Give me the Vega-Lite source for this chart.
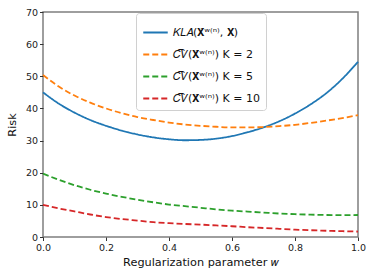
{
  "$schema": "https://vega.github.io/schema/vega-lite/v6.json",
  "width": 315,
  "height": 225,
  "autosize": {"type": "none"},
  "padding": {"left": 43, "top": 12, "right": 15, "bottom": 42},
  "background": "white",
  "config": {
    "font": "DejaVu Sans",
    "view": {"stroke": "#7f7f7f", "strokeWidth": 1.5},
    "axis": {"domain": false, "grid": false, "labelFlush": false, "tickColor": "#333", "tickSize": 3.5, "labelColor": "#222", "labelFontSize": 9.5, "titleFontSize": 11.3, "titleFontWeight": "normal", "titleColor": "#111", "labelFont": "DejaVu Sans", "titleFont": "DejaVu Sans"}
  },
  "data": {"values": [
    {"w":0,"s":"KLA","v":45.0},{"w":0.05,"s":"KLA","v":41.5},{"w":0.1,"s":"KLA","v":38.7},{"w":0.15,"s":"KLA","v":36.4},{"w":0.2,"s":"KLA","v":34.6},{"w":0.25,"s":"KLA","v":33.1},{"w":0.3,"s":"KLA","v":31.9},{"w":0.35,"s":"KLA","v":31.0},{"w":0.4,"s":"KLA","v":30.4},{"w":0.45,"s":"KLA","v":30.1},{"w":0.5,"s":"KLA","v":30.2},{"w":0.55,"s":"KLA","v":30.6},{"w":0.6,"s":"KLA","v":31.4},{"w":0.65,"s":"KLA","v":32.6},{"w":0.7,"s":"KLA","v":34.1},{"w":0.75,"s":"KLA","v":36.0},{"w":0.8,"s":"KLA","v":38.4},{"w":0.85,"s":"KLA","v":41.3},{"w":0.9,"s":"KLA","v":44.8},{"w":0.95,"s":"KLA","v":49.2},{"w":1.0,"s":"KLA","v":54.5},
    {"w":0,"s":"K2","v":50.4},{"w":0.05,"s":"K2","v":46.8},{"w":0.1,"s":"K2","v":44.0},{"w":0.15,"s":"K2","v":41.8},{"w":0.2,"s":"K2","v":40.0},{"w":0.25,"s":"K2","v":38.5},{"w":0.3,"s":"K2","v":37.3},{"w":0.35,"s":"K2","v":36.4},{"w":0.4,"s":"K2","v":35.6},{"w":0.45,"s":"K2","v":35.0},{"w":0.5,"s":"K2","v":34.6},{"w":0.55,"s":"K2","v":34.3},{"w":0.6,"s":"K2","v":34.1},{"w":0.65,"s":"K2","v":34.1},{"w":0.7,"s":"K2","v":34.2},{"w":0.75,"s":"K2","v":34.5},{"w":0.8,"s":"K2","v":34.9},{"w":0.85,"s":"K2","v":35.5},{"w":0.9,"s":"K2","v":36.2},{"w":0.95,"s":"K2","v":37.0},{"w":1.0,"s":"K2","v":37.9},
    {"w":0,"s":"K5","v":19.7},{"w":0.05,"s":"K5","v":17.8},{"w":0.1,"s":"K5","v":16.1},{"w":0.15,"s":"K5","v":14.7},{"w":0.2,"s":"K5","v":13.5},{"w":0.25,"s":"K5","v":12.5},{"w":0.3,"s":"K5","v":11.6},{"w":0.35,"s":"K5","v":10.8},{"w":0.4,"s":"K5","v":10.1},{"w":0.45,"s":"K5","v":9.6},{"w":0.5,"s":"K5","v":9.1},{"w":0.55,"s":"K5","v":8.6},{"w":0.6,"s":"K5","v":8.2},{"w":0.65,"s":"K5","v":7.9},{"w":0.7,"s":"K5","v":7.6},{"w":0.75,"s":"K5","v":7.3},{"w":0.8,"s":"K5","v":7.1},{"w":0.85,"s":"K5","v":6.95},{"w":0.9,"s":"K5","v":6.85},{"w":0.95,"s":"K5","v":6.8},{"w":1.0,"s":"K5","v":6.85},
    {"w":0,"s":"K10","v":10.0},{"w":0.05,"s":"K10","v":8.9},{"w":0.1,"s":"K10","v":7.95},{"w":0.15,"s":"K10","v":7.0},{"w":0.2,"s":"K10","v":6.2},{"w":0.25,"s":"K10","v":5.6},{"w":0.3,"s":"K10","v":5.1},{"w":0.35,"s":"K10","v":4.6},{"w":0.4,"s":"K10","v":4.3},{"w":0.45,"s":"K10","v":4.05},{"w":0.5,"s":"K10","v":3.85},{"w":0.55,"s":"K10","v":3.6},{"w":0.6,"s":"K10","v":3.35},{"w":0.65,"s":"K10","v":3.05},{"w":0.7,"s":"K10","v":2.8},{"w":0.75,"s":"K10","v":2.55},{"w":0.8,"s":"K10","v":2.3},{"w":0.85,"s":"K10","v":2.1},{"w":0.9,"s":"K10","v":1.95},{"w":0.95,"s":"K10","v":1.8},{"w":1.0,"s":"K10","v":1.7}
  ]},
  "mark": {"type": "line", "strokeWidth": 1.8, "interpolate": "monotone"},
  "encoding": {
    "x": {"field": "w", "type": "quantitative", "scale": {"domain": [0, 1], "nice": false}, "axis": {"values": [0, 0.2, 0.4, 0.6, 0.8, 1.0], "format": ".1f", "title": "Regularization parameter 𝑤", "titlePadding": 4}},
    "y": {"field": "v", "type": "quantitative", "scale": {"domain": [0, 70], "nice": false}, "axis": {"values": [0, 10, 20, 30, 40, 50, 60, 70], "title": "Risk", "titlePadding": 8}},
    "color": {"field": "s", "type": "nominal", "sort": ["KLA", "K2", "K5", "K10"],
      "scale": {"domain": ["KLA", "K2", "K5", "K10"], "range": ["#1f77b4", "#ff7f0e", "#2ca02c", "#d62728"]},
      "legend": {"title": null, "orient": "none", "legendX": 93, "legendY": 1, "symbolType": "stroke", "symbolSize": 600, "symbolStrokeWidth": 2, "labelFontSize": 11, "labelColor": "#111", "rowPadding": 3, "padding": 6, "strokeColor": "#d0d0d0", "cornerRadius": 3, "fillColor": "white",
        "labelExpr": "datum.value == 'KLA' ? '𝐾𝐿𝐴(𝐗̂ʷ⁽ⁿ⁾, 𝐗)' : datum.value == 'K2' ? '𝐶͡𝑉(𝐗̂ʷ⁽ⁿ⁾) K = 2' : datum.value == 'K5' ? '𝐶͡𝑉(𝐗̂ʷ⁽ⁿ⁾) K = 5' : '𝐶͡𝑉(𝐗̂ʷ⁽ⁿ⁾) K = 10'"}},
    "strokeDash": {"field": "s", "type": "nominal", "sort": ["KLA", "K2", "K5", "K10"],
      "scale": {"domain": ["KLA", "K2", "K5", "K10"], "range": [[1, 0], [6, 3], [6, 3], [6, 3]]},
      "legend": {"title": null, "orient": "none", "legendX": 93, "legendY": 1, "symbolType": "stroke", "symbolSize": 600, "symbolStrokeWidth": 2, "labelFontSize": 11, "labelColor": "#111", "rowPadding": 3, "padding": 6, "strokeColor": "#d0d0d0", "cornerRadius": 3, "fillColor": "white",
        "labelExpr": "datum.value == 'KLA' ? '𝐾𝐿𝐴(𝐗̂ʷ⁽ⁿ⁾, 𝐗)' : datum.value == 'K2' ? '𝐶͡𝑉(𝐗̂ʷ⁽ⁿ⁾) K = 2' : datum.value == 'K5' ? '𝐶͡𝑉(𝐗̂ʷ⁽ⁿ⁾) K = 5' : '𝐶͡𝑉(𝐗̂ʷ⁽ⁿ⁾) K = 10'"}}
  }
}
